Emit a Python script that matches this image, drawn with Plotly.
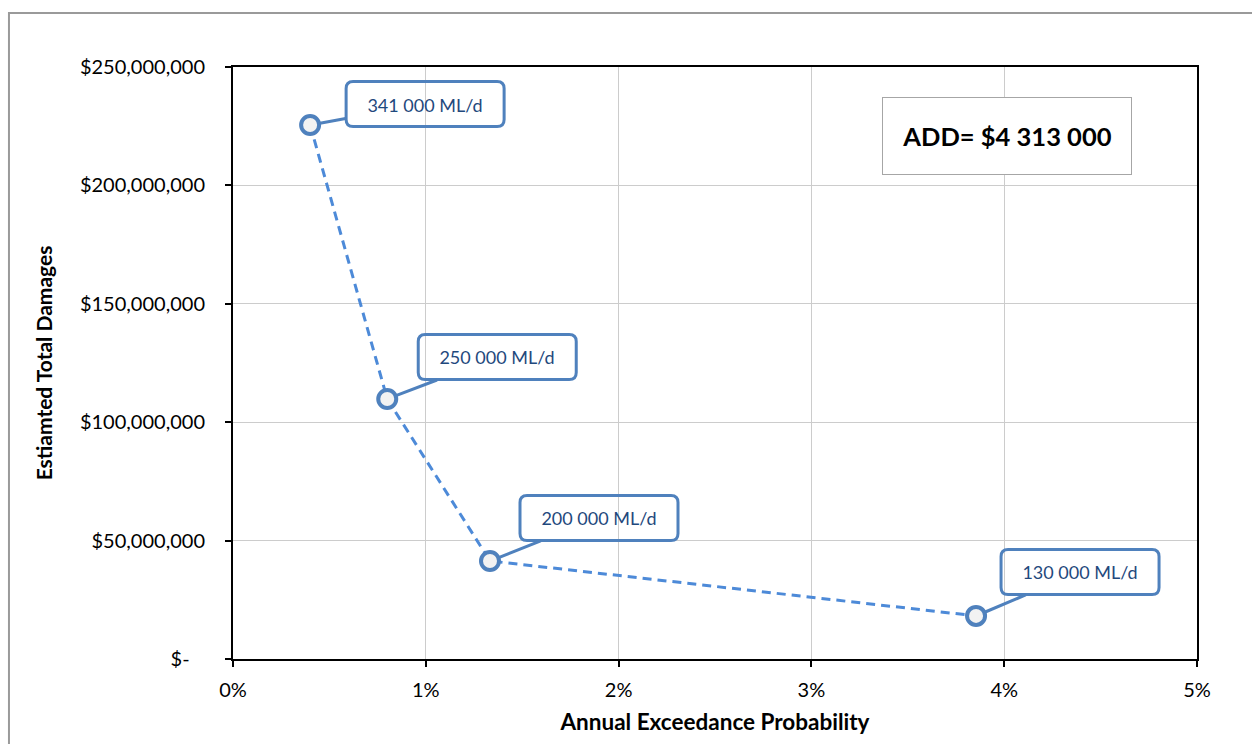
import plotly.graph_objects as go

# Annual exceedance probability (fraction) and estimated total damages ($)
aep = [0.004, 0.008, 0.01333, 0.03854]
damages = [225.5e6, 109.8e6, 41.4e6, 18.2e6]
flow_labels = ["341 000 ML/d", "250 000 ML/d", "200 000 ML/d", "130 000 ML/d"]

y_tickvals = [0, 50e6, 100e6, 150e6, 200e6, 250e6]
y_ticktext = ["$-\u00a0\u00a0\u00a0", "$50,000,000", "$100,000,000", "$150,000,000",
              "$200,000,000", "$250,000,000"]
x_tickvals = [0, 0.01, 0.02, 0.03, 0.04, 0.05]
x_ticktext = ["0%", "1%", "2%", "3%", "4%", "5%"]

add_text = "ADD= $4 313 000"

FONT = "Lato, 'Open Sans', sans-serif"
BLUE = "#4f81bd"
LINE_BLUE = "#4d8ad8"
TEXT_BLUE = "#1f497d"

# callout offsets (pixels) from each point to its label box centre
offsets = [(115, -21), (110, -42), (109, -43), (104, -44)]
BOX_W, BOX_H, R = 158, 45, 7

fig = go.Figure()
fig.add_trace(go.Scatter(
    x=aep, y=damages, mode="lines+markers",
    line=dict(color=LINE_BLUE, width=3, dash="9px,6px"),
    marker=dict(size=18, color="#f2f2f2", line=dict(color=BLUE, width=4)),
    hoverinfo="skip", showlegend=False,
))


def rounded_rect(cx, cy, w, h, r):
    x0, x1 = cx - w / 2, cx + w / 2
    y0, y1 = cy - h / 2, cy + h / 2
    return (f"M{x0 + r},{y0} L{x1 - r},{y0} Q{x1},{y0} {x1},{y0 + r} "
            f"L{x1},{y1 - r} Q{x1},{y1} {x1 - r},{y1} L{x0 + r},{y1} "
            f"Q{x0},{y1} {x0},{y1 - r} L{x0},{y0 + r} Q{x0},{y0} {x0 + r},{y0} Z")


for xv, yv, lab, (ox, oy) in zip(aep, damages, flow_labels, offsets):
    # leader line + label text
    fig.add_annotation(
        x=xv, y=yv, xref="x", yref="y", ax=ox, ay=oy, axref="pixel", ayref="pixel",
        text=lab, showarrow=True, arrowhead=0, arrowwidth=3, arrowcolor=BLUE,
        standoff=10, width=BOX_W, height=BOX_H, borderpad=0,
        font=dict(family=FONT, size=18, color=TEXT_BLUE),
    )
    # rounded label frame (pixel units, y up)
    fig.add_shape(
        type="path", xref="x", yref="y", xsizemode="pixel", ysizemode="pixel",
        xanchor=xv, yanchor=yv, path=rounded_rect(ox, -oy, BOX_W, BOX_H, R),
        line=dict(color=BLUE, width=3), fillcolor="rgba(0,0,0,0)", layer="above",
    )

fig.add_annotation(
    x=0.04015, y=220.9e6, xref="x", yref="y", showarrow=False,
    text=f"<b>{add_text}</b>", width=248, height=76, bgcolor="white",
    bordercolor="#a6a6a6", borderwidth=1, borderpad=0,
    font=dict(family=FONT, size=25.5, color="black"),
)

# outer chart frame
fig.add_shape(type="rect", xref="paper", yref="paper", x0=-0.2324, x1=1.07,
              y0=-0.16, y1=1.0912, line=dict(color="#9a9a9a", width=2), layer="below")

axis_common = dict(
    showline=True, linecolor="black", linewidth=2, mirror=True,
    showgrid=True, gridcolor="#cccccc", gridwidth=1,
    ticks="outside", ticklen=6, tickcolor="black", tickwidth=2,
    tickfont=dict(family=FONT, size=20, color="black"), zeroline=False,
)

fig.update_layout(
    width=1252, height=744,
    margin=dict(l=233, r=55, t=67, b=85),
    paper_bgcolor="white", plot_bgcolor="white",
    xaxis=dict(range=[0, 0.05], tickvals=x_tickvals, ticktext=x_ticktext,
               title=dict(text="<b>Annual Exceedance Probability</b>", standoff=14,
                          font=dict(family=FONT, size=22.5, color="black")),
               ticklabelstandoff=6, **axis_common),
    yaxis=dict(range=[0, 250e6], tickvals=y_tickvals, ticktext=y_ticktext,
               title=dict(text="<b>Estiamted Total Damages</b>", standoff=22,
                          font=dict(family=FONT, size=21, color="black")),
               ticklabelstandoff=16, **axis_common),
)

fig.write_html("out.html")
